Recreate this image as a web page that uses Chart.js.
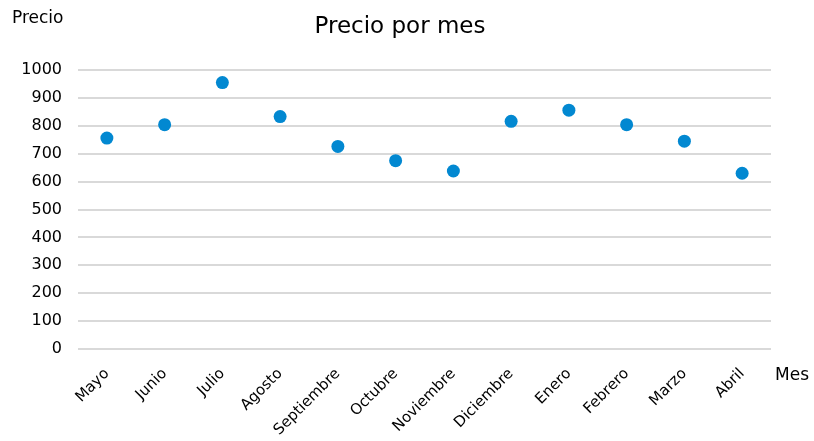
<!DOCTYPE html>
<html>
<head>
<meta charset="utf-8">
<script src="https://cdn.jsdelivr.net/npm/chart.js@4.4.1/dist/chart.umd.min.js"></script>
<style>
  html, body { margin: 0; padding: 0; background: #fff; }
  #wrap { width: 814px; height: 441px; }
</style>
</head>
<body>
<div id="wrap"><canvas id="grafico"></canvas></div>
<script>
// datos del grafico
const meses = ["Mayo", "Junio", "Julio", "Agosto", "Septiembre", "Octubre", "Noviembre", "Diciembre", "Enero", "Febrero", "Marzo", "Abril"];
const precios = [756, 804, 955, 833, 726, 675, 638, 816, 856, 804, 745, 630];
const yMin = 0;
const yMax = 1000;
const yPaso = 100;

const fuente = "'DejaVu Sans', sans-serif";

// titulo y nombres de ejes dibujados a mano
const textosExtra = {
    id: 'textosExtra',
    afterDraw(chart) {
        let ctx = chart.ctx;
        ctx.save();
        ctx.fillStyle = "#000";
        ctx.textBaseline = "middle";
        ctx.font = "23px " + fuente;
        ctx.textAlign = "center";
        ctx.fillText("Precio por mes", 400, 27);
        ctx.font = "17px " + fuente;
        ctx.textAlign = "left";
        ctx.fillText("Precio", 12, 19);
        ctx.fillText("Mes", 775, 376);
        ctx.restore();
    }
};

new Chart(document.getElementById("grafico"), {
    type: "line",
    data: {
        labels: meses,
        datasets: [
            {
                label: "Precio",
                data: precios,
                showLine: false,
                pointRadius: 6.5,
                pointHoverRadius: 6.5,
                pointBackgroundColor: "#0288d1",
                pointBorderColor: "#0288d1",
                pointBorderWidth: 0
            }
        ]
    },
    options: {
        responsive: true,
        maintainAspectRatio: false,
        animation: false,
        layout: { padding: { left: 0, right: 43, top: 70, bottom: 0 } },
        plugins: {
            legend: { display: false },
            tooltip: { enabled: false },
            title: { display: false }
        },
        scales: {
            x: {
                offset: true,
                grid: { display: false },
                border: { display: false },
                ticks: {
                    color: "#000",
                    font: { family: fuente, size: 15 },
                    maxRotation: 45,
                    minRotation: 45,
                    padding: 8,
                    autoSkip: false
                },
                afterFit(scale) { scale.height = 92; }
            },
            y: {
                min: yMin,
                max: yMax,
                grid: { color: "#d9d9d9", lineWidth: 2, drawTicks: false },
                border: { display: false },
                ticks: {
                    stepSize: yPaso,
                    color: "#000",
                    font: { family: fuente, size: 16 },
                    padding: 16,
                    callback: (v) => String(v)
                },
                afterFit(scale) { scale.width = 78; }
            }
        }
    },
    plugins: [textosExtra]
});
</script>
</body>
</html>
